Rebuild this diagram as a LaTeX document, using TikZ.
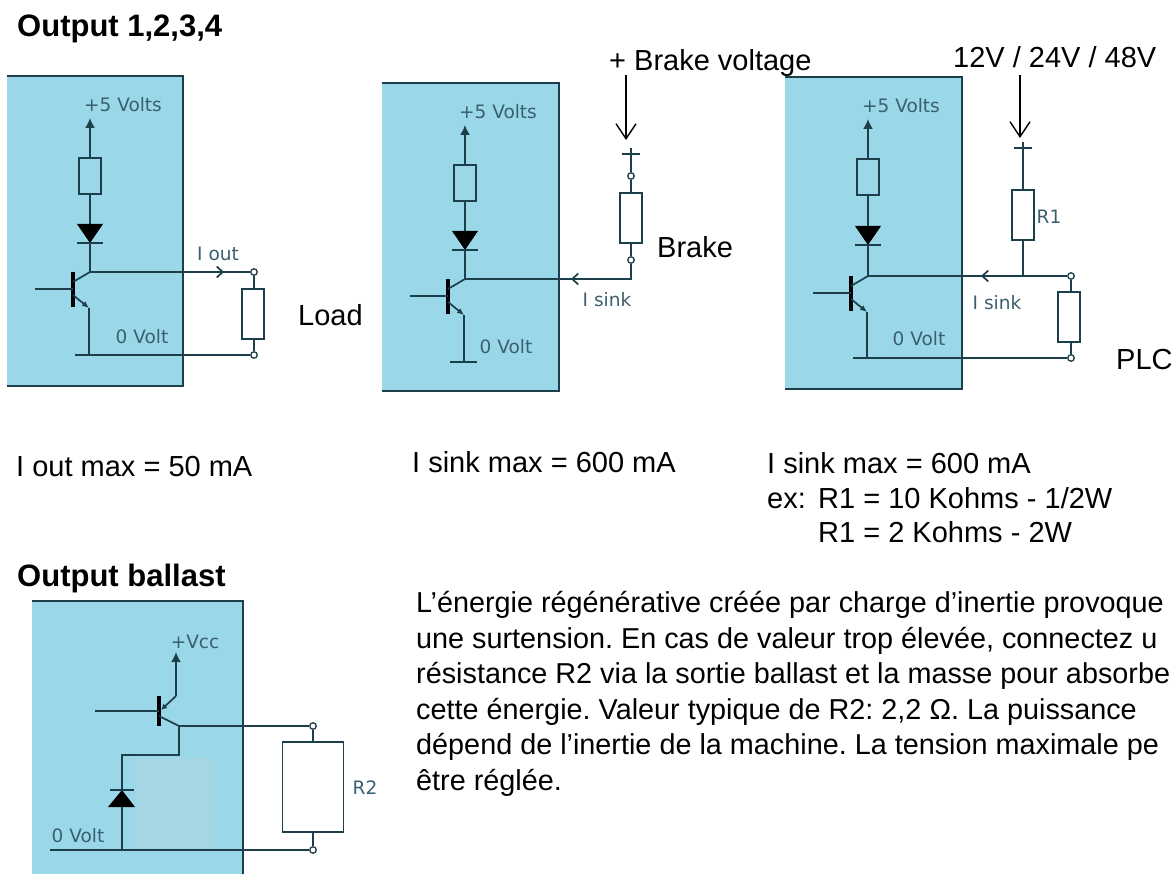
\documentclass[tikz,border=0pt]{standalone}
\usepackage{fontspec}
\setmainfont{Liberation Sans}
\newfontfamily\schemafont{DejaVu Sans}
\usetikzlibrary{arrows.meta}
\frenchspacing
\definecolor{panelblue}{HTML}{9AD8E9}
\definecolor{patchblue}{HTML}{A6D6E4}
\definecolor{wirecol}{HTML}{1C3F4A}
\definecolor{labelcol}{HTML}{3A5F6E}
\tikzset{
  panel/.style={fill=panelblue, inner sep=0pt},
  edge/.style={line width=2.4pt, draw=wirecol},
  wire/.style={line width=1.7pt, draw=wirecol},
  bar/.style={line width=3.2pt, draw=black},
  res/.style={draw=wirecol, line width=1.5pt, inner sep=0pt, minimum width=22pt, minimum height=36pt},
  load/.style={res, fill=white, minimum height=50pt},
  term/.style={circle, draw=wirecol, fill=white, line width=1.3pt, inner sep=0pt, minimum size=6.5pt},
  bigtext/.style={font=\fontsize{29}{35}\selectfont, anchor=base west, inner sep=0pt, text=black},
  boldtext/.style={font=\bfseries\fontsize{31}{35}\selectfont, anchor=base west, inner sep=0pt, text=black},
  schema/.style={font=\schemafont\fontsize{18.5}{20}\selectfont, text=labelcol, inner sep=0pt},
}

\begin{document}
\begin{tikzpicture}[x=1pt, y=-1pt]
  \useasboundingbox (0,0) rectangle (1173,874);

  \node[boldtext] (title) at (17,37){Output 1,2,3,4};

  % left: load
  \node[panel, minimum width=176pt, minimum height=310pt] (boxa) at (95,231){};
  \draw[edge] (boxa.north west) -- (boxa.north east) -- (boxa.south east) -- (boxa.south west);
  \node[schema] (vcca) at (123,105){+5 Volts};
  \node[res] (ra) at (90,176){};
  \coordinate (supa) at (90,118);
  \coordinate (dta) at (90,224);
  \coordinate (dba) at (90,243);
  \coordinate (ca) at (90,272);
  \coordinate (ba) at (73,289);
  \coordinate (fa) at (35,289);
  \coordinate (ea) at (89,308);
  \coordinate (ga) at (89,355);
  \coordinate (gla) at (75,355);
  \draw[wire, -{Latex[length=10pt,width=10pt]}] (ra.north) -- (supa);
  \draw[wire] (ra.south) -- (dta);
  \fill[black] (77,224) -- (103,224) -- (dba) -- cycle;
  \draw[wire, line width=2.4pt] (77,243) -- (103,243);
  \draw[wire] (dba) -- (ca);
  \draw[bar] (73,272) -- (73,307);
  \draw[wire] (fa) -- (ba);
  \draw[wire] (73,282) -- (ca);
  \draw[wire, -{Latex[length=7pt,width=6pt]}] (73,295) -- (ea);
  \draw[wire] (ea) -- (ga);
  \node[term] (ta) at (254,272){};
  \node[term] (tb) at (254,355){};
  \draw[wire] (ca) -- (ta);
  \draw[wire] (gla) -- (tb);
  \coordinate (ia) at (224,272);
  \draw[wire, -{Straight Barb[length=6pt,width=11pt]}] (ca) -- (ia);
  \node[load] (la) at (253,314){};
  \draw[wire] (ta) -- (ta |- la.north);
  \draw[wire] (tb |- la.south) -- (tb);
  \node[schema] (iouta) at (218,254){I out};
  \node[schema] (zeroa) at (142,337){0 Volt};
  \node[bigtext] (loadt) at (298,326){Load};
  \node[bigtext] (maxa) at (16,476){I out max = 50 mA};

  % middle: brake
  \node[panel, minimum width=177pt, minimum height=308pt] (boxb) at (470.5,237){};
  \draw[edge] (boxb.north west) -- (boxb.north east) -- (boxb.south east) -- (boxb.south west);
  \node[schema] (vccb) at (498,112){+5 Volts};
  \node[res] (rb) at (465,183){};
  \coordinate (supb) at (465,125);
  \coordinate (dtb) at (465,231);
  \coordinate (dbb) at (465,250);
  \coordinate (cb) at (465,279);
  \coordinate (bb) at (448,296);
  \coordinate (fb) at (410,296);
  \coordinate (eb) at (464,315);
  \coordinate (gb) at (464,362);
  \coordinate (glb) at (450,362);
  \coordinate (grb) at (477,362);
  \draw[wire, -{Latex[length=10pt,width=10pt]}] (rb.north) -- (supb);
  \draw[wire] (rb.south) -- (dtb);
  \fill[black] (452,231) -- (478,231) -- (dbb) -- cycle;
  \draw[wire, line width=2.4pt] (452,250) -- (478,250);
  \draw[wire] (dbb) -- (cb);
  \draw[bar] (448,279) -- (448,314);
  \draw[wire] (fb) -- (bb);
  \draw[wire] (448,289) -- (cb);
  \draw[wire, -{Latex[length=7pt,width=6pt]}] (448,302) -- (eb);
  \draw[wire] (eb) -- (gb);
  \draw[wire] (glb) -- (grb);
  \node[bigtext] (brakev) at (609,71){+ Brake voltage};
  \coordinate (arbt) at (626,75);
  \coordinate (arbb) at (626,140);
  \draw[line width=1.4pt, -{Straight Barb[length=15pt,width=20pt]}] (arbt) -- (arbb);
  \coordinate (plbt) at (631,148);
  \draw[wire, line width=2.4pt] (622,154) -- (640,154);
  \node[term] (tc) at (631,176){};
  \node[term] (td) at (631,260){};
  \node[load] (lb) at (631,218){};
  \coordinate (kb) at (631,279);
  \coordinate (ib) at (571,279);
  \draw[wire] (plbt) -- (tc);
  \draw[wire] (tc) -- (lb.north);
  \draw[wire] (lb.south) -- (td);
  \draw[wire] (td) -- (kb) -- (cb);
  \draw[wire, -{Straight Barb[length=6pt,width=11pt]}] (kb) -- (ib);
  \node[schema] (isinkb) at (607,300){I sink};
  \node[schema] (zerob) at (506,347){0 Volt};
  \node[bigtext] (braket) at (657,258){Brake};
  \node[bigtext] (maxb) at (412,472){I sink max = 600 mA};

  % right: plc
  \node[panel, minimum width=177pt, minimum height=312pt] (boxc) at (873.5,233){};
  \draw[edge] (boxc.north west) -- (boxc.north east) -- (boxc.south east) -- (boxc.south west);
  \node[schema] (vccc) at (901,106){+5 Volts};
  \node[res] (rc) at (868,177){};
  \coordinate (supc) at (868,119);
  \coordinate (dtc) at (868,226);
  \coordinate (dbc) at (868,245);
  \coordinate (cc) at (868,276);
  \coordinate (bc) at (851,293);
  \coordinate (fc) at (813,293);
  \coordinate (ec) at (867,312);
  \coordinate (gc) at (867,358);
  \coordinate (glc) at (853,358);
  \draw[wire, -{Latex[length=10pt,width=10pt]}] (rc.north) -- (supc);
  \draw[wire] (rc.south) -- (dtc);
  \fill[black] (855,226) -- (881,226) -- (dbc) -- cycle;
  \draw[wire, line width=2.4pt] (855,245) -- (881,245);
  \draw[wire] (dbc) -- (cc);
  \draw[bar] (851,276) -- (851,311);
  \draw[wire] (fc) -- (bc);
  \draw[wire] (851,286) -- (cc);
  \draw[wire, -{Latex[length=7pt,width=6pt]}] (851,299) -- (ec);
  \draw[wire] (ec) -- (gc);
  \node[bigtext] (volts) at (953,68){12V / 24V / 48V};
  \coordinate (arct) at (1020,75);
  \coordinate (arcb) at (1020,138);
  \draw[line width=1.4pt, -{Straight Barb[length=15pt,width=20pt]}] (arct) -- (arcb);
  \coordinate (plct) at (1023,142);
  \draw[wire, line width=2.4pt] (1014,148) -- (1032,148);
  \node[load] (rone) at (1023,215){};
  \coordinate (kc) at (1023,276);
  \draw[wire] (plct) -- (rone.north);
  \draw[wire] (rone.south) -- (kc);
  \node[term] (te) at (1071,276){};
  \node[term] (tf) at (1071,358){};
  \draw[wire] (cc) -- (te);
  \draw[wire] (glc) -- (tf);
  \coordinate (ic) at (981,276);
  \draw[wire, -{Straight Barb[length=6pt,width=11pt]}] (kc) -- (ic);
  \node[load] (lc) at (1069,317){};
  \draw[wire] (te) -- (te |- lc.north);
  \draw[wire] (tf |- lc.south) -- (tf);
  \node[schema] (ronet) at (1049,217){R1};
  \node[schema] (isinkc) at (997,303){I sink};
  \node[schema] (zeroc) at (919,339){0 Volt};
  \node[bigtext] (plct2) at (1116,370){PLC};
  \node[bigtext] (maxc) at (767,474){I sink max = 600 mA};
  \node[bigtext] (exa) at (767,508){ex:};
  \node[bigtext] (exb) at (818,508){R1 = 10 Kohms - 1/2W};
  \node[bigtext] (exc) at (818,542){R1 = 2 Kohms - 2W};

  % bottom: ballast
  \node[boldtext] (balt) at (17,586){Output ballast};
  \node[panel, minimum width=211pt, minimum height=273pt] (boxd) at (137.5,737.5){};
  \draw[edge] (boxd.south east) -- (boxd.north east) -- (boxd.north west);
  \node[fill=patchblue, inner sep=0pt, minimum width=78pt, minimum height=90pt] (patch) at (175,803){};
  \node[schema] (vccd) at (195,642){+Vcc};
  \coordinate (supd) at (176,652);
  \coordinate (ud) at (176,696);
  \coordinate (bd) at (159,711);
  \coordinate (fd) at (95,711);
  \coordinate (cd) at (179,726);
  \coordinate (kd) at (179,755);
  \coordinate (jd) at (122,755);
  \coordinate (dtd) at (122,790);
  \coordinate (dbd) at (122,807);
  \coordinate (gd) at (122,850);
  \coordinate (gld) at (50,850);
  \draw[wire, -{Latex[length=10pt,width=10pt]}] (ud) -- (supd);
  \draw[wire, -{Latex[length=6pt,width=6pt]}] (ud) -- (161,710);
  \draw[bar] (159,696) -- (159,726);
  \draw[wire] (fd) -- (bd);
  \draw[wire] (159,716) -- (cd);
  \draw[wire] (cd) -- (kd) -- (jd) -- (dtd);
  \fill[black] (dtd) -- (135,807) -- (108,807) -- cycle;
  \draw[wire, line width=1.8pt] (110,790) -- (134,790);
  \draw[wire] (dbd) -- (gd);
  \node[term] (tg) at (313,726){};
  \node[term] (th) at (313,850){};
  \draw[wire] (cd) -- (tg);
  \draw[wire] (gld) -- (th);
  \node[draw=wirecol, line width=1.5pt, fill=white, inner sep=0pt, minimum width=61pt, minimum height=90pt] (rtwo) at (313,787){};
  \draw[wire] (tg) -- (rtwo.north);
  \draw[wire] (rtwo.south) -- (th);
  \node[schema] (rtwot) at (365,788){R2};
  \node[schema] (zerod) at (78,836){0 Volt};
  \node[bigtext, align=left, font=\fontsize{28.8}{35.5}\selectfont] (para) at (416,790){L’énergie régénérative créée par charge d’inertie provoque\\
    une surtension. En cas de valeur trop élevée, connectez u\\
    résistance R2 via la sortie ballast et la masse pour absorbe\\
    cette énergie. Valeur typique de R2: 2,2 Ω. La puissance\\
    dépend de l’inertie de la machine. La tension maximale pe\\
    être réglée.};

\end{tikzpicture}
\end{document}
